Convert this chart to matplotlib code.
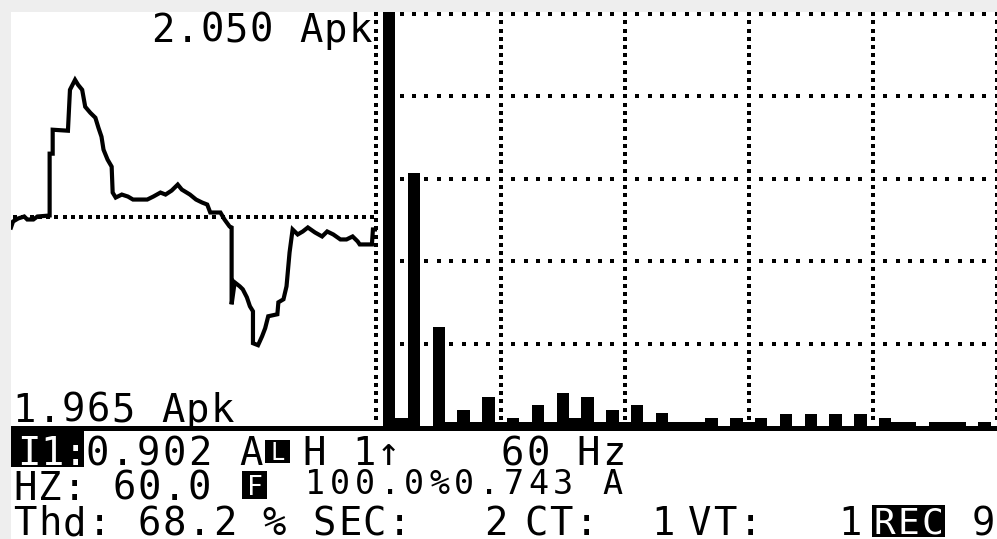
import numpy as np
import matplotlib
matplotlib.use('Agg')
import matplotlib.pyplot as plt
from matplotlib.patches import Rectangle

# waveform of one cycle (degrees, amps)
wave_deg = [0, 2, 7, 13, 16, 22, 26, 38, 38, 41, 41, 56, 58, 63, 66, 70, 73, 78, 83, 86,
            89, 91, 95, 99, 100, 103, 109, 115, 120, 134, 140, 147, 152, 158, 164, 168, 176,
            182, 188, 193, 196, 206, 210, 215, 217, 217, 220, 225, 228, 232, 235, 238, 238,
            243, 247, 250, 253, 262, 263, 268, 271, 274, 277, 282, 287, 292, 299, 306, 311,
            317, 324, 330, 336, 341, 343, 355, 356, 360]
wave_amp = [-0.11, -0.05, -0.02, 0.00, -0.03, -0.03, 0.00, 0.01, 0.63, 0.63, 0.87, 0.86,
            1.27, 1.37, 1.32, 1.27, 1.10, 1.04, 0.99, 0.89, 0.80, 0.67, 0.57, 0.50, 0.24,
            0.19, 0.22, 0.20, 0.17, 0.17, 0.20, 0.24, 0.22, 0.26, 0.32, 0.27, 0.22, 0.17,
            0.14, 0.12, 0.04, 0.04, -0.03, -0.10, -0.11, -0.88, -0.66, -0.70, -0.73, -0.81,
            -0.90, -0.95, -1.27, -1.29, -1.20, -1.12, -1.00, -0.98, -0.86, -0.83, -0.70,
            -0.36, -0.13, -0.18, -0.15, -0.11, -0.16, -0.20, -0.15, -0.18, -0.23, -0.23,
            -0.20, -0.25, -0.28, -0.28, -0.13, -0.13]

# harmonic spectrum, % of fundamental
harmonics = list(range(1, 51))
harm_pct = [100.5, 1.9, 61.4, 0, 24.0, 1, 4, 1, 7.1, 1,
            1.9, 1, 5.1, 1, 8.1, 1.9, 7.1, 1, 4, 1,
            5.1, 1, 3.1, 1, 1, 1, 2, 0, 2, 1,
            2, 0, 2.9, 0, 2.9, 0, 2.9, 0, 2.9, 0,
            2, 1, 1, 0, 1, 1, 1, 0, 1, 0]

W, H = 997, 539
fig = plt.figure(figsize=(W / 100, H / 100), dpi=100)
fig.patch.set_facecolor('#eeeeee')

def px_axes(x0, y0, x1, y1, z):
    return fig.add_axes([x0 / W, 1 - y1 / H, (x1 - x0) / W, (y1 - y0) / H], zorder=z)

# overlay in pixel units: screen, frame line, text
ov = px_axes(0, 0, W, H, 0)
ov.set_xlim(0, W)
ov.set_ylim(H, 0)
ov.axis('off')
ov.add_patch(Rectangle((11, 12), W - 11, H - 12, color='white', lw=0))
ov.add_patch(Rectangle((11, 426), W - 11, 4.5, color='black', lw=0))

MONO = 'DejaVu Sans Mono'

def lcd(x, y, s, size=28, pitch=24.9, color='black'):
    for i, ch in enumerate(s):
        if ch != ' ':
            ov.text(x + (i + 0.5) * pitch, y, ch, ha='center', va='baseline',
                    fontsize=size, family=MONO, color=color)

def inv_box(x0, y0, x1, y1):
    ov.add_patch(Rectangle((x0, y0), x1 - x0, y1 - y0, color='black', lw=0))

# waveform panel
axw = px_axes(11, 12, 377, 426, 2)
axw.set_xlim(0, 360)
axw.set_ylim(-2.10, 2.05)
axw.axis('off')
axw.patch.set_alpha(0)
dots_x = np.arange(3.9, 360, 8.17)
axw.plot(dots_x, np.zeros_like(dots_x), ls='none', marker='s', ms=2.7, color='black', mew=0)
axw.plot(wave_deg, wave_amp, color='black', lw=3.0, solid_joinstyle='miter')

# spectrum panel
axs = px_axes(383, 12, 997, 426, 2)
axs.set_xlim(0.5, 50.02)
axs.set_ylim(0, 100.5)
axs.axis('off')
axs.patch.set_alpha(0)
hx = np.arange(1, 51)
for lvl in [20, 40, 60, 80, 100]:
    axs.plot(hx, np.full(len(hx), lvl), ls='none', marker='s', ms=2.7, color='black', mew=0, zorder=1)
vy = np.arange(2, 101, 2)
for gx in [-0.03, 10, 20, 30, 40, 50]:
    axs.plot(np.full(len(vy), gx), vy, ls='none', marker='s', ms=2.7, color='black', mew=0,
             zorder=1, clip_on=False)
axs.bar(harmonics, harm_pct, width=1.0, color='black', lw=0, zorder=2)

# scale labels
lcd(150, 42, '2.050 Apk', pitch=24.7)
lcd(12, 422, '1.965 Apk', pitch=24.7)

# row 1
inv_box(11, 429, 84, 467)
lcd(17, 465, 'I1:', pitch=23.5, color='white')
lcd(84, 465, '0.902 A', pitch=25.7)
inv_box(265, 440, 290, 463)
ov.text(277.5, 460, 'L', ha='center', va='baseline', fontsize=17, family=MONO, color='white')
lcd(302, 465, 'H 1\u2191', pitch=24.7)
lcd(500, 465, '60 Hz', pitch=25.2)

# row 2
lcd(12.5, 500, 'HZ: 60.0', pitch=24.9)
inv_box(242, 471, 267, 499)
ov.text(254.5, 495, 'F', ha='center', va='baseline', fontsize=19, family=MONO, color='white')
lcd(303, 494, '100.0%0.743 A', size=24, pitch=24.75)

# row 3
lcd(12, 535, 'Thd: 68.2 % SEC:', pitch=25)
lcd(483.5, 535, '2', pitch=25)
lcd(523.5, 535, 'CT:', pitch=25)
lcd(650.5, 535, '1', pitch=25)
lcd(687.5, 535, 'VT:', pitch=25)
lcd(837.5, 535, '1', pitch=25)
inv_box(872, 505, 945, 537)
lcd(872, 534, 'REC', size=26, pitch=24.3, color='white')
lcd(970.5, 535, '9', pitch=25)

fig.savefig('out.png', dpi=100)
